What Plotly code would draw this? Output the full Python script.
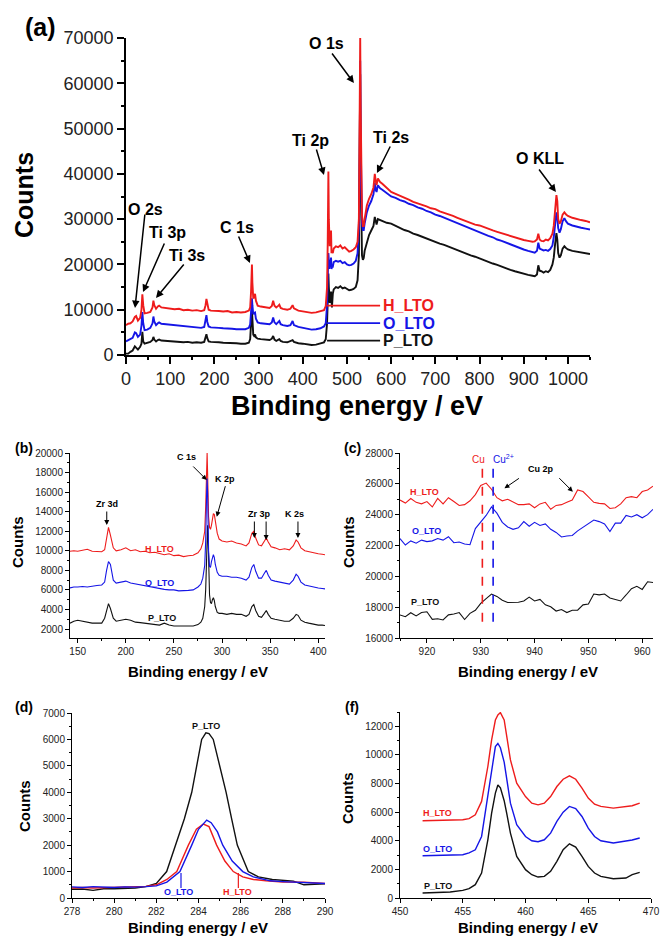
import plotly.graph_objects as go

FONT = "Liberation Sans, Arial, sans-serif"
W, H = 662, 938
RED, BLUE, BLACK = "#ee1c1c", "#1515e6", "#111111"

# ---------------- Panel (a): survey ----------------
a_x = [0, 5, 10, 15, 20, 23, 27, 32, 35, 37,
       39, 42, 48, 55, 60, 62, 64, 68, 72, 75,
       80, 90, 100, 110, 120, 130, 140, 150, 160, 170,
       177, 180, 182, 184, 187, 192, 200, 210, 220, 230,
       240, 250, 260, 270, 278, 281, 283, 285, 286, 288,
       290, 292, 294, 298, 305, 315, 325, 330, 333, 336,
       340, 345, 347, 350, 355, 365, 372, 377, 380, 390,
       400, 410, 420, 430, 440, 448, 452, 455, 456.5, 458,
       459, 460, 461, 462, 463, 464, 465, 466, 468, 470,
       475, 480, 485, 490, 495, 500, 505, 510, 515, 520,
       524, 527, 529, 530, 531, 532, 534, 536, 538, 540,
       545, 550, 555, 560, 563, 565, 567, 570, 575, 580,
       590, 600, 610, 620, 630, 640, 650, 660, 670, 680,
       690, 700, 710, 720, 730, 740, 750, 760, 770, 780,
       790, 800, 810, 820, 830, 840, 850, 860, 870, 880,
       890, 900, 910, 920, 925, 930, 933, 936, 940, 945,
       950, 955, 960, 965, 968, 971, 974, 976, 978, 981,
       984, 988, 992, 996, 1000, 1010, 1020, 1030, 1040, 1050]
a_H = [6600, 6900, 7000, 7400, 8400, 8600, 7600, 8200, 10000, 13400,
       11000, 9200, 9300, 9500, 10500, 12000, 11000, 10200, 10700, 10900,
       10500, 10400, 10300, 10100, 10200, 9900, 10000, 9800, 9900, 9700,
       9900, 11000, 12400, 11200, 10000, 9800, 9800, 9700, 9600, 9700,
       9400, 9500, 9400, 9500, 9800, 10500, 14000, 20000, 16000, 12500,
       12800, 13500, 12000, 10900, 10700, 10500, 10400, 10800, 12000, 10900,
       10500, 10900, 11100, 10400, 10200, 10000, 10200, 11000, 10300, 9800,
       9600, 9500, 9300, 9400, 9600, 9900, 10800, 15000, 25000, 40500,
       30000, 25000, 24000, 27000, 24000, 27500, 22500, 23000, 22500, 23500,
       24000, 23800, 24200, 23500, 23800, 23200, 22800, 23000, 23300, 23800,
       25000, 30000, 50000, 70000, 55000, 40000, 31000, 28500, 28500, 30000,
       33000, 34500, 35500, 37000, 40000, 38500, 37500, 39000, 38200, 37800,
       37000, 36000, 35600, 35200, 34700, 34300, 33800, 33500, 33100, 32800,
       32400, 32200, 31700, 31400, 31000, 30700, 30300, 29900, 29600, 29200,
       28800, 28600, 28200, 27900, 27500, 27200, 26900, 26500, 26300, 25900,
       25700, 25400, 25200, 25000, 25100, 25500, 26800, 25500, 25200, 25100,
       25500, 25300, 25800, 26800, 28500, 32000, 35300, 34000, 30000, 29000,
       29500, 31000, 31500, 31000, 30700, 30300, 30000, 29800, 29600, 29300]
a_O = [3000, 3300, 3600, 3800, 5000, 4800, 4000, 4500, 6500, 9500,
       7000, 5500, 5600, 6000, 7000, 8500, 7400, 6600, 7000, 7200,
       6900, 6800, 6700, 6500, 6500, 6300, 6200, 6100, 6100, 6000,
       6200, 7500, 8800, 7300, 6300, 6100, 6100, 6000, 5900, 5900,
       5800, 5700, 5700, 5700, 6000, 6800, 9500, 12500, 11000, 9000,
       9300, 9400, 8000, 7200, 7000, 6900, 6800, 7200, 8300, 7200,
       6800, 7300, 7500, 6800, 6600, 6400, 6600, 7500, 6600, 6200,
       6000, 5800, 5600, 5700, 5900, 6300, 7000, 11000, 17000, 22500,
       21000, 19000, 20000, 21000, 20000, 21500, 19000, 19500, 19500, 20500,
       20800, 20600, 20800, 20300, 20500, 20000, 19800, 19900, 20200, 20800,
       22500, 28000, 45000, 65000, 48000, 36000, 29000, 27600, 27600, 29000,
       31500, 33000, 34000, 35500, 38000, 36500, 36000, 37500, 36800, 36500,
       35800, 35000, 34700, 34200, 33900, 33400, 33100, 32600, 32300, 31800,
       31500, 31000, 30700, 30300, 29800, 29500, 29000, 28700, 28200, 27900,
       27400, 27100, 26700, 26300, 26000, 25500, 25200, 24800, 24500, 24000,
       23700, 23300, 23000, 22700, 22600, 23000, 24800, 23500, 23300, 23100,
       23200, 23000, 23400, 24200, 26000, 29000, 31500, 30500, 28000, 27000,
       27800, 29500, 30200, 29500, 29000, 28600, 28300, 28100, 27900, 27700]
a_P = [300, 300, 700, 1000, 1900, 1500, 1200, 1800, 2500, 5100,
       3000, 2500, 2700, 2900, 3300, 4000, 3400, 3000, 3300, 3400,
       3200, 3100, 3100, 3000, 2900, 2800, 2900, 2700, 2800, 2700,
       2900, 3800, 4600, 3700, 3000, 2900, 2900, 2800, 2700, 2700,
       2600, 2600, 2500, 2500, 2700, 3500, 7000, 10000, 8000, 4500,
       4200, 4500, 3900, 3600, 3500, 3400, 3300, 3600, 4200, 3400,
       3100, 3400, 3500, 3100, 2900, 2800, 3000, 3300, 2900, 2600,
       2500, 2400, 2200, 2300, 2500, 2800, 3500, 7000, 12000, 18000,
       15000, 12000, 11500, 14000, 13000, 14000, 11000, 10500, 13500, 14500,
       15000, 14800, 15200, 14700, 14900, 14500, 14300, 14400, 14600, 15000,
       16500, 22000, 40000, 62000, 42000, 28000, 22000, 21000, 21400, 23000,
       25000, 26500, 27500, 28500, 30500, 29500, 28800, 30000, 29800, 29500,
       29200, 29000, 28500, 28100, 27600, 27300, 26800, 26500, 26100, 25700,
       25400, 25000, 24600, 24300, 23900, 23500, 23100, 22800, 22400, 22000,
       21700, 21300, 21000, 20600, 20200, 19900, 19500, 19200, 18800, 18500,
       18200, 17900, 17700, 17500, 17400, 17800, 19800, 18600, 18500, 18200,
       18500, 18300, 18800, 20000, 21500, 24500, 26900, 25500, 22500, 21500,
       22000, 23500, 24000, 23600, 23300, 23000, 22800, 22700, 22500, 22300]

# peak labels in (a): text, text pos (eV, counts), arrow tip (eV, counts), tail offset px
a_peaks = [
    ("O 1s", 454.8, 68890, 515.8, 60060, -23, -31),
    ("Ti 2p", 418.6, 47470, 448.0, 39740, -8, -27),
    ("Ti 2s", 599.5, 48130, 567.9, 40190, 14, -28),
    ("O KLL", 936.7, 43500, 972.9, 35990, -18, -24),
    ("O 2s", 43.0, 32240, 20.4, 10380, 10, -95),
    ("Ti 3p", 95.0, 27160, 38.5, 13910, 22, -50),
    ("Ti 3s", 138.0, 22080, 67.9, 12590, 29, -35),
    ("C 1s", 251.0, 28260, 280.5, 20310, -12, -28),
]
a_leaders = [("H_LTO", 10900, RED), ("O_LTO", 7050, BLUE), ("P_LTO", 3170, BLACK)]

# ---------------- Panel (b): 150-400 eV ----------------
b_x = [142, 146, 150, 155, 160, 165, 170, 175, 178, 180,
       182, 184, 187, 190, 195, 200, 205, 210, 215, 220,
       225, 230, 235, 240, 245, 250, 255, 260, 265, 270,
       275, 278, 280, 282, 283, 284, 284.5, 285, 285.5, 286,
       287, 288, 289, 290, 291, 292, 293, 295, 297, 300,
       305, 310, 315, 320, 325, 328, 331, 333, 335, 338,
       341, 344, 346, 348, 351, 355, 360, 365, 370, 374,
       377, 379, 382, 386, 390, 395, 400, 404, 407]
b_H = [9950, 10000, 9950, 10050, 10150, 9950, 9900, 9900, 10100, 11300,
       12400, 11600, 10300, 10000, 10100, 10300, 10000, 10100, 9900, 9950,
       9800, 9850, 9700, 9600, 9700, 9500, 9550, 9400, 9500, 9550,
       9800, 10200, 10800, 12000, 14500, 19000, 20000, 18000, 15500, 13500,
       12400, 12200, 12600, 13300, 13800, 13700, 13000, 11800, 11200, 11000,
       10900, 11000, 10800, 10700, 10500, 10800, 11800, 12000, 11300, 10600,
       10500, 11000, 11300, 10900, 10400, 10300, 10100, 10200, 10100, 10500,
       11100, 10900, 10300, 10000, 9900, 9800, 9700, 9650, 9600]
b_O = [6200, 6300, 6300, 6350, 6300, 6400, 6450, 6500, 6800, 8000,
       8900, 8600, 7000, 6700, 6800, 6900, 6700, 6600, 6500, 6400,
       6300, 6200, 6100, 6050, 6000, 6000, 5900, 5900, 5950, 6000,
       6300, 6600, 7200, 8500, 11000, 16000, 17400, 16000, 12500, 10000,
       8400, 8300, 8900, 9400, 9600, 9300, 8600, 7800, 7500, 7400,
       7400, 7300, 7300, 7200, 7000, 7300, 8300, 8600, 7900, 7200,
       7200, 7700, 8000, 7500, 7000, 6900, 6800, 6700, 6600, 7000,
       7600, 7400, 6800, 6500, 6400, 6300, 6200, 6150, 6100]
b_P = [2600, 2800, 2900, 2800, 2700, 2600, 2600, 2600, 3100, 4000,
       4600, 4100, 3100, 2800, 2900, 3000, 2900, 2700, 2650, 2600,
       2500, 2500, 2400, 2600, 2400, 2300, 2300, 2250, 2300, 2300,
       2450, 2700, 3100, 4300, 6000, 8500, 11000, 12600, 11500, 8500,
       5500, 4700, 4600, 5000, 5200, 4900, 4300, 3700, 3600, 3600,
       3500, 3600, 3500, 3500, 3300, 3500, 4300, 4500, 3900, 3300,
       3200, 3600, 3900, 3500, 3100, 3000, 2900, 2800, 2800, 3100,
       3500, 3400, 2900, 2700, 2600, 2500, 2400, 2400, 2350]
b_peaks = [
    ("Zr 3d", 180.2, 14784, [(180.2, 12636, 0, -15)]),
    ("C 1s", 263.5, 19591, [(284.1, 17239, -15, -15)]),
    ("K 2p", 303.1, 17341, [(294.5, 13485, 9, -32)]),
    ("Zr 3p", 338.5, 13762, [(333.6, 11307, 0, -18), (345.8, 11102, 0, -20)]),
    ("K 2s", 375.0, 13762, [(378.9, 11307, 0, -18)]),
]
b_labels = [("H_LTO", 235.4, 10182, RED), ("O_LTO", 235.4, 6705, BLUE), ("P_LTO", 237.5, 3125, BLACK)]

# ---------------- Panel (c): Cu 2p ----------------
c_x = [915, 916, 917, 918, 919, 920, 921, 922, 923, 924,
       925, 926, 927, 928, 929, 930, 931, 932, 933, 934,
       935, 936, 937, 938, 939, 940, 941, 942, 943, 944,
       945, 946, 947, 948, 949, 950, 951, 952, 953, 954,
       955, 956, 957, 958, 959, 960, 961, 962]
c_H = [24950, 24750, 25050, 24800, 24700, 24850, 24500, 25050, 24700, 25100,
       24850, 24600, 24650, 24900, 25300, 25900, 26050, 25650, 25100, 24900,
       25000, 24800, 24650, 24650, 24700, 24450, 24700, 24800, 24350, 24600,
       24650, 24800, 24950, 25600, 25500, 25150, 24800, 24730, 24700, 24400,
       24450, 24700, 25100, 25170, 25100, 25500, 25600, 25850]
c_O = [22450, 22030, 22300, 22150, 22350, 22250, 22300, 22450, 22350, 22570,
       22180, 22230, 22100, 22050, 23100, 23500, 23950, 24500, 24100, 23500,
       23200, 23050, 23150, 23550, 23250, 23500, 23300, 23400, 23050, 22850,
       22550, 22620, 22650, 22950, 23200, 23400, 23650, 23550, 23400, 22900,
       23450, 23450, 23950, 23850, 24000, 23800, 24000, 24350]
c_P = [17490, 17380, 17640, 17430, 17650, 17700, 17210, 17250, 17170, 17500,
       17560, 17650, 17200, 17600, 17800, 18250, 18550, 18850, 18700, 18450,
       18300, 18330, 18320, 18400, 18650, 18400, 18500, 18150, 18030, 17750,
       17850, 17650, 17800, 17800, 18150, 18200, 18850, 18800, 18850, 18600,
       18480, 18400, 18790, 19200, 19350, 19150, 19650, 19600]
c_refs = [("Cu", 930.3, RED, 929.5), ("Cu<sup>2+</sup>", 932.3, BLUE, 934.3)]
c_ref_span = [17060, 27550]
c_labels = [("H_LTO", 919.5, 25490, RED), ("O_LTO", 920.0, 22940, BLUE), ("P_LTO", 919.6, 18360, BLACK)]

# ---------------- Panel (d): C 1s ----------------
d_xP = [278, 278.5, 279, 279.5, 280, 280.5, 281, 281.5, 282, 282.49,
        282.92, 283.33, 283.68, 283.91, 284.15, 284.35, 284.5, 284.7, 285.02, 285.31,
        285.57, 285.84, 286.36, 286.84, 287.5, 288, 288.5, 289, 289.5, 290]
d_P = [330, 340, 290, 350, 350, 370, 380, 430, 550, 1000,
       2000, 3000, 4000, 5000, 6000, 6250, 6220, 6000, 5000, 4000,
       3000, 2000, 1000, 800, 700, 660, 640, 500, 530, 540]
d_xH = [278, 278.5, 279, 279.5, 280, 280.5, 281, 281.5, 282, 282.5,
        282.97, 283.52, 283.9, 284.23, 284.5, 284.86, 285.25, 285.65, 286.1, 286.6,
        287.2, 288, 289, 290]
d_H = [380, 400, 380, 390, 400, 410, 420, 440, 500, 700,
       1000, 2000, 2600, 2800, 2700, 2000, 1400, 1000, 800, 700,
       650, 600, 600, 550]
d_xO = [278, 278.5, 279, 279.5, 280, 280.5, 281, 281.5, 282, 282.5,
        283.12, 283.68, 284.0, 284.39, 284.6, 284.9, 285.15, 285.6, 286.1, 286.6,
        287.4, 288, 289, 290]
d_O = [420, 400, 430, 410, 400, 420, 410, 430, 460, 600,
       1000, 2000, 2600, 2950, 2850, 2500, 2000, 1400, 1000, 800,
       650, 620, 580, 550]
d_labels = [("P_LTO", 284.34, 6519, BLACK, None),
            ("O_LTO", 283.03, 230, BLUE, 283.17),
            ("H_LTO", 285.83, 230, RED, 285.89)]
d_leader_span = [378, 946]

# ---------------- Panel (f): Ti 2p ----------------
f_x = [451.8, 453, 454, 455, 455.5, 456, 456.5, 457, 457.3, 457.6,
       457.8, 458, 458.3, 458.5, 458.8, 459.3, 460, 460.5, 461, 461.5,
       462, 462.5, 463, 463.5, 464, 464.5, 465, 465.5, 466, 467,
       468, 468.5, 469.1]
f_H = [5400, 5420, 5450, 5470, 5550, 5815, 6750, 9190, 11050, 12440,
       12800, 12960, 12440, 11280, 9650, 8020, 7090, 6630, 6510, 6630,
       7090, 7790, 8300, 8540, 8300, 7680, 6980, 6560, 6400, 6280,
       6400, 6450, 6630]
f_O = [2950, 2960, 2980, 3020, 3150, 3370, 4300, 7090, 8720, 10580,
       10800, 10500, 9500, 8260, 6630, 5120, 4300, 4000, 3930, 4070,
       4535, 5350, 6000, 6400, 6250, 5700, 4880, 4300, 4000, 3840,
       3950, 4050, 4190]
f_P = [350, 380, 420, 535, 650, 930, 1740, 4070, 5930, 7330,
       7900, 7700, 6800, 5930, 4535, 2910, 1980, 1630, 1465, 1510,
       1860, 2560, 3370, 3790, 3560, 2910, 2210, 1745, 1510, 1350,
       1395, 1630, 1790]
f_labels = [("H_LTO", 452.99, 5962, RED), ("O_LTO", 452.99, 3425, BLUE), ("P_LTO", 452.99, 839, BLACK)]

# ---------------- figure ----------------
fig = go.Figure()


def line(x, y, color, xa, ya, width):
    fig.add_trace(go.Scatter(x=x, y=y, mode="lines", xaxis=xa, yaxis=ya,
                             line=dict(color=color, width=width), showlegend=False,
                             hoverinfo="skip"))


# (a)
line(a_x, a_P, BLACK, "x", "y", 1.9)
line(a_x, a_O, BLUE, "x", "y", 1.9)
line(a_x, a_H, RED, "x", "y", 1.9)
# (b)
line(b_x, b_P, BLACK, "x2", "y2", 1.1)
line(b_x, b_H, RED, "x2", "y2", 1.1)
line(b_x, b_O, BLUE, "x2", "y2", 1.1)
# (c)
line(c_x, c_P, BLACK, "x3", "y3", 1.1)
line(c_x, c_O, BLUE, "x3", "y3", 1.1)
line(c_x, c_H, RED, "x3", "y3", 1.1)
# (d)
line(d_xP, d_P, BLACK, "x4", "y4", 1.4)
line(d_xH, d_H, RED, "x4", "y4", 1.4)
line(d_xO, d_O, BLUE, "x4", "y4", 1.4)
# (f)
line(f_x, f_P, BLACK, "x5", "y5", 1.4)
line(f_x, f_O, BLUE, "x5", "y5", 1.4)
line(f_x, f_H, RED, "x5", "y5", 1.4)


def dom_x(p0, p1):
    return [p0 / W, p1 / W]


def dom_y(top, bottom):
    return [1 - bottom / H, 1 - top / H]


def axis(rng, dtick, mdtick, domain, anchor, fsize, tlen, lw):
    return dict(range=rng, domain=domain, anchor=anchor, automargin=False,
                showline=True, linecolor="black",
                linewidth=lw, ticks="outside", ticklen=tlen, tickwidth=lw, tickcolor="black",
                tick0=0, dtick=dtick, tickformat="d", showgrid=False, zeroline=False,
                tickfont=dict(size=fsize, family=FONT, color="#222"),
                minor=dict(ticks="outside", ticklen=max(2, tlen // 2), dtick=mdtick, tick0=0,
                           tickcolor="black", tickwidth=lw, showgrid=False))


axes = {
    "xaxis": axis([0, 1050], 100, 50, dom_x(126, 590), "y", 18, 7, 1.6),
    "yaxis": axis([0, 70000], 10000, 5000, dom_y(38, 355), "x", 18, 7, 1.6),
    "xaxis2": axis([142, 407], 50, 25, dom_x(70, 325), "y2", 10, 4, 1),
    "yaxis2": axis([1080, 20000], 2000, 1000, dom_y(453, 638), "x2", 10, 4, 1),
    "xaxis3": axis([915, 962], 10, 5, dom_x(400, 653), "y3", 10, 4, 1),
    "yaxis3": axis([16000, 28000], 2000, 1000, dom_y(453, 638), "x3", 10, 4, 1),
    "xaxis4": axis([278, 290], 2, 1, dom_x(72, 325), "y4", 10, 4, 1),
    "yaxis4": axis([0, 7000], 1000, 500, dom_y(713, 898), "x4", 10, 4, 1),
    "xaxis5": axis([450, 470], 5, 2.5, dom_x(400, 651), "y5", 10, 4, 1),
    "yaxis5": axis([0, 13000], 2000, 1000, dom_y(712, 898), "x5", 10, 4, 1),
}

ann = []
shapes = []


def paper_text(text, px, py, size, bold=True, angle=0, color="black"):
    ann.append(dict(text=f"<b>{text}</b>" if bold else text, x=px / W, y=1 - py / H,
                    xref="paper", yref="paper", showarrow=False, textangle=angle,
                    font=dict(size=size, family=FONT, color=color),
                    xanchor="center", yanchor="middle"))


def data_text(text, x, y, xr, yr, size, color="black", bold=True, xanchor="center"):
    ann.append(dict(text=f"<b>{text}</b>" if bold else text, x=x, y=y, xref=xr, yref=yr,
                    showarrow=False, font=dict(size=size, family=FONT, color=color),
                    xanchor=xanchor, yanchor="middle"))


def arrow(x, y, ax, ay, xr, yr, width, head):
    ann.append(dict(text="", x=x, y=y, ax=ax, ay=ay, xref=xr, yref=yr, showarrow=True,
                    arrowhead=2, arrowsize=head, arrowwidth=width, arrowcolor="black",
                    standoff=0, startstandoff=0))


# panel letters
paper_text("(a)", 40, 27, 25)
paper_text("(b)", 24, 448, 14)
paper_text("(c)", 353, 448, 14)
paper_text("(d)", 24, 707, 14)
paper_text("(f)", 352, 707, 14)

# axis titles
paper_text("Counts", 24, 195, 25, angle=-90)
paper_text("Binding energy / eV", 357, 406, 27)
for cx, cy in [(17, 542), (348, 542), (24, 806), (347, 798)]:
    paper_text("Counts", cx, cy, 15, angle=-90)
for cx, cy in [(198, 671), (528, 671), (198, 927), (528, 927)]:
    paper_text("Binding energy / eV", cx, cy, 15)

# (a) annotations
for t, tx, ty, hx, hy, ox, oy in a_peaks:
    data_text(t, tx, ty, "x", "y", 16)
    arrow(hx, hy, ox, oy, "x", "y", 1.5, 1.0)
for t, yv, col in a_leaders:
    shapes.append(dict(type="line", xref="x", yref="y", x0=455, x1=575, y0=yv, y1=yv,
                       line=dict(color=col, width=1.8)))
    data_text(t, 578, yv, "x", "y", 16, color=col, xanchor="left")

# (b) annotations
for t, tx, ty, arrs in b_peaks:
    data_text(t, tx, ty, "x2", "y2", 9)
    for hx, hy, ox, oy in arrs:
        arrow(hx, hy, ox, oy, "x2", "y2", 1, 1.0)
for t, tx, ty, col in b_labels:
    data_text(t, tx, ty, "x2", "y2", 9, color=col)

# (c) annotations
for t, xv, col, tx in c_refs:
    shapes.append(dict(type="line", xref="x3", yref="y3", x0=xv, x1=xv,
                       y0=c_ref_span[0], y1=c_ref_span[1],
                       line=dict(color=col, width=1.6, dash="dash")))
    data_text(t, tx, 27600, "x3", "y3", 10, color=col, bold=False)
data_text("Cu 2p", 941.2, 26940, "x3", "y3", 9)
arrow(934.4, 25708, 16, -11, "x3", "y3", 1, 1.0)
arrow(947.1, 25492, -15, -15, "x3", "y3", 1, 1.0)
for t, tx, ty, col in c_labels:
    data_text(t, tx, ty, "x3", "y3", 9, color=col)

# (d) annotations
for t, tx, ty, col, lx in d_labels:
    data_text(t, tx, ty, "x4", "y4", 9, color=col)
    if lx is not None:
        shapes.append(dict(type="line", xref="x4", yref="y4", x0=lx, x1=lx,
                           y0=d_leader_span[0], y1=d_leader_span[1],
                           line=dict(color=col, width=1.2)))

# (f) annotations
for t, tx, ty, col in f_labels:
    data_text(t, tx, ty, "x5", "y5", 9, color=col)

fig.update_layout(width=W, height=H, margin=dict(l=0, r=0, t=0, b=0),
                  paper_bgcolor="white", plot_bgcolor="white",
                  font=dict(family=FONT, color="black"),
                  showlegend=False, annotations=ann, shapes=shapes, **axes)

fig.write_html("out.html", config={"displayModeBar": False},
               post_script="document.body.style.margin='0px';document.body.style.overflow='hidden';")
